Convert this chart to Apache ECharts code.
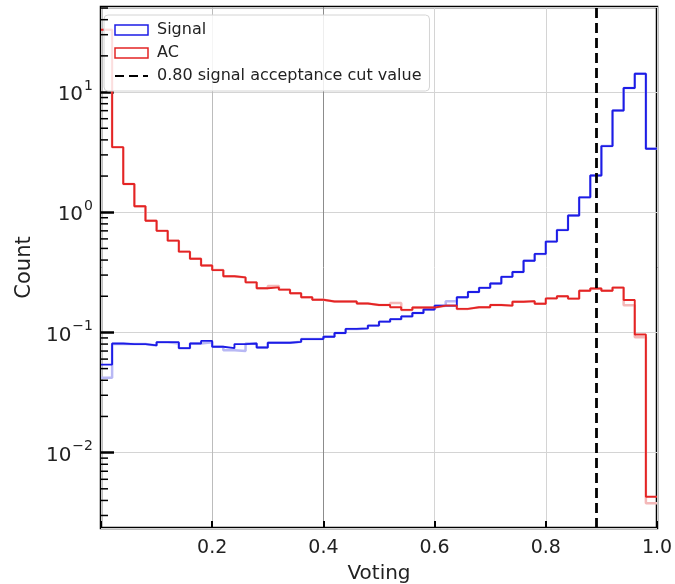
<!DOCTYPE html>
<html>
<head>
<meta charset="utf-8">
<script src="https://cdn.jsdelivr.net/npm/echarts@6/dist/echarts.min.js"></script>
<style>
  html, body { margin: 0; padding: 0; background: #fff; }
  #chart { width: 675px; height: 584px; }
</style>
</head>
<body>
<div id="chart"></div>
<script>
// bin edges of the histogram (50 bins on 0..1)
const binEdges = [0, 0.02, 0.04, 0.06, 0.08, 0.10, 0.12, 0.14, 0.16, 0.18,
  0.20, 0.22, 0.24, 0.26, 0.28, 0.30, 0.32, 0.34, 0.36, 0.38,
  0.40, 0.42, 0.44, 0.46, 0.48, 0.50, 0.52, 0.54, 0.56, 0.58,
  0.60, 0.62, 0.64, 0.66, 0.68, 0.70, 0.72, 0.74, 0.76, 0.78,
  0.80, 0.82, 0.84, 0.86, 0.88, 0.90, 0.92, 0.94, 0.96, 0.98, 1.0]

const signalCounts = [0.054, 0.081, 0.080, 0.080, 0.078, 0.083, 0.083, 0.074, 0.081, 0.085,
  0.076, 0.074, 0.080, 0.081, 0.075, 0.082, 0.082, 0.0835, 0.088, 0.088,
  0.092, 0.099, 0.107, 0.108, 0.114, 0.123, 0.129, 0.136, 0.145, 0.155,
  0.167, 0.167, 0.196, 0.217, 0.235, 0.255, 0.29, 0.318, 0.395, 0.45,
  0.57, 0.71, 0.94, 1.33, 2.02, 3.55, 7.03, 10.8, 14.2, 3.37]

const acCounts = [33, 3.48, 1.72, 1.12, 0.85, 0.70, 0.58, 0.47, 0.41, 0.36,
  0.33, 0.293, 0.287, 0.261, 0.233, 0.237, 0.227, 0.212, 0.196, 0.187,
  0.181, 0.181, 0.181, 0.174, 0.169, 0.169, 0.162, 0.154, 0.161, 0.161,
  0.167, 0.167, 0.157, 0.162, 0.162, 0.169, 0.167, 0.180, 0.182, 0.173,
  0.192, 0.200, 0.191, 0.222, 0.232, 0.222, 0.236, 0.186, 0.096, 0.0043]

// faint underlying histograms (second pass, drawn light)
const signalFaint = [0.042, 0.080, 0.080, 0.080, 0.078, 0.083, 0.081, 0.074, 0.081, 0.083,
  0.076, 0.071, 0.070, 0.081, 0.075, 0.082, 0.082, 0.0835, 0.088, 0.088,
  0.092, 0.099, 0.107, 0.108, 0.114, 0.123, 0.129, 0.136, 0.145, 0.155,
  0.167, 0.182, 0.196, 0.217, 0.235, 0.255, 0.29, 0.318, 0.395, 0.45,
  0.57, 0.71, 0.94, 1.33, 2.02, 3.55, 7.03, 10.8, 14.2, 3.37]

const acFaint = [33, 3.48, 1.72, 1.12, 0.85, 0.70, 0.58, 0.47, 0.41, 0.36,
  0.33, 0.293, 0.287, 0.261, 0.233, 0.243, 0.227, 0.212, 0.196, 0.187,
  0.181, 0.181, 0.181, 0.174, 0.169, 0.169, 0.176, 0.154, 0.161, 0.161,
  0.167, 0.167, 0.157, 0.162, 0.162, 0.169, 0.167, 0.180, 0.182, 0.173,
  0.192, 0.200, 0.191, 0.222, 0.232, 0.222, 0.236, 0.168, 0.091, 0.0038]

const cutValue = 0.893
const xTicks = [0.2, 0.4, 0.6, 0.8, 1.0]
const minorTicks = [0.003, 0.004, 0.005, 0.006, 0.007, 0.008, 0.009,
  0.02, 0.03, 0.04, 0.05, 0.06, 0.07, 0.08, 0.09,
  0.2, 0.3, 0.4, 0.5, 0.6, 0.7, 0.8, 0.9,
  2, 3, 4, 5, 6, 7, 8, 9, 20, 30, 40, 50]

const BLUE = '#1c1ce6'
const RED = '#e42424'
const FONT = 'DejaVu Sans'
const CLEAR = 'rgba(0,0,0,0)'

function steps(vals) {
  const pts = vals.map((v, i) => [binEdges[i], v])
  pts.push([binEdges[binEdges.length - 1], vals[vals.length - 1]])
  return pts
}

function sup(v) {
  const lg = Math.log10(v)
  const e = Math.round(lg)
  if (Math.abs(lg - e) > 0.001) return ''
  return '{b|10}{s|' + (e < 0 ? '\u2212' + (-e) : e) + '}'
}

const chart = echarts.init(document.getElementById('chart'))

chart.setOption({
  animation: false,
  textStyle: { fontFamily: FONT },
  grid: {
    left: 101, right: 18, top: 7, bottom: 56,
    outerBoundsMode: 'none', containLabel: false,
    show: true, borderColor: '#000', borderWidth: 2.5, backgroundColor: 'transparent'
  },
  legend: {
    orient: 'vertical',
    left: 104, top: 15,
    padding: [7, 8, 7, 10],
    itemWidth: 33, itemHeight: 10, itemGap: 7,
    backgroundColor: 'rgba(255,255,255,0.85)',
    borderColor: '#d4d4d4', borderWidth: 1, borderRadius: 4,
    textStyle: { fontFamily: FONT, fontSize: 16, color: '#222', padding: [0, 0, 0, 4] },
    data: [
      { name: 'Signal', icon: 'rect', itemStyle: { color: CLEAR, borderColor: BLUE, borderWidth: 1.5 } },
      { name: 'AC', icon: 'rect', itemStyle: { color: CLEAR, borderColor: RED, borderWidth: 1.5 } },
      { name: '0.80 signal acceptance cut value', itemStyle: { color: CLEAR, borderColor: CLEAR, borderWidth: 0 } }
    ]
  },
  xAxis: {
    type: 'value', min: 0, max: 1, interval: 0.2,
    name: 'Voting', nameLocation: 'middle', nameGap: 36,
    nameTextStyle: { fontFamily: FONT, fontSize: 20, color: '#222' },
    axisLine: { show: false },
    axisTick: { inside: true, length: 7, lineStyle: { color: '#000', width: 2 } },
    axisLabel: {
      fontFamily: FONT, fontSize: 19, color: '#222', margin: 11,
      formatter: v => (xTicks.some(t => Math.abs(t - v) < 1e-6) ? v.toFixed(1) : '')
    },
    splitLine: { show: true, lineStyle: { color: ['#d0d0d0', '#bcbcbc', '#8c8c8c', '#d4d4d4', '#d4d4d4', '#d0d0d0'], width: 1 } }
  },
  yAxis: {
    type: 'log', logBase: 10, min: 0.00236, max: 51,
    name: 'Count', nameLocation: 'middle', nameGap: 64,
    nameTextStyle: { fontFamily: FONT, fontSize: 21, color: '#222' },
    axisLine: { show: false },
    axisTick: { inside: true, length: 13, lineStyle: { color: '#000', width: 2.5 } },
    axisLabel: {
      margin: 8, showMinLabel: false, showMaxLabel: false,
      formatter: sup,
      rich: {
        b: { fontFamily: FONT, fontSize: 20, color: '#222', lineHeight: 26, verticalAlign: 'bottom' },
        s: { fontFamily: FONT, fontSize: 14, color: '#222', lineHeight: 15, verticalAlign: 'top', padding: [0, 0, 0, 1] }
      }
    },
    splitLine: { show: true, lineStyle: { color: '#d4d4d4', width: 1 } }
  },
  series: [
    {
      name: 'Signal faint', type: 'line', step: 'end', symbol: 'none', silent: true,
      data: steps(signalFaint), lineStyle: { color: '#b8b8f4', width: 2.5 }, z: 1
    },
    {
      name: 'AC faint', type: 'line', step: 'end', symbol: 'none', silent: true,
      data: steps(acFaint), lineStyle: { color: '#f4b8b8', width: 2.5 }, z: 1
    },
    {
      name: 'Signal', type: 'line', step: 'end', symbol: 'none',
      data: steps(signalCounts), itemStyle: { color: BLUE }, lineStyle: { color: BLUE, width: 1.9 }, z: 3
    },
    {
      name: 'AC', type: 'line', step: 'end', symbol: 'none',
      data: steps(acCounts), itemStyle: { color: RED }, lineStyle: { color: RED, width: 1.9 }, z: 3
    },
    {
      name: '0.80 signal acceptance cut value', type: 'line', symbol: 'none', data: [],
      itemStyle: { color: '#000' },
      lineStyle: { color: '#000', width: 2.5, type: [9, 5] },
      markLine: {
        silent: true, symbol: 'none', label: { show: false },
        lineStyle: { color: '#000', width: 2.8, type: [10, 5] },
        data: [{ xAxis: cutValue }]
      },
      z: 4
    },
    {
      name: 'minor ticks', type: 'custom', silent: true, clip: false, z: 5,
      data: minorTicks.map(v => [0, v]),
      renderItem: (params, api) => {
        const p = api.coord([0, api.value(1)])
        return {
          type: 'line',
          shape: { x1: p[0], y1: p[1], x2: p[0] + 7, y2: p[1] },
          style: { stroke: '#000', lineWidth: 1.5 }
        }
      }
    }
  ]
})
</script>
</body>
</html>
